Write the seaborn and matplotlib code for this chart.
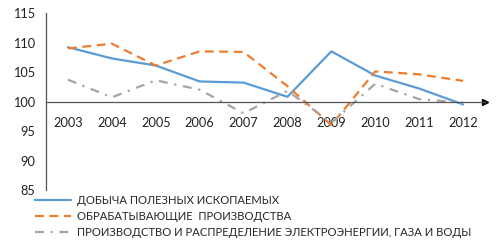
import matplotlib
matplotlib.use("Agg")
from matplotlib import pyplot as plt
import numpy as np
import pandas
import seaborn as sns

# Data
years = [2003, 2004, 2005, 2006, 2007, 2008, 2009, 2010, 2011, 2012]
mining = [109.2, 107.3, 106.1, 103.4, 103.2, 100.8, 108.5, 104.4, 102.2, 99.5]
manufacturing = [109.0, 109.8, 106.1, 108.5, 108.4, 102.6, 96.0, 105.1, 104.6, 103.5]
utilities = [103.7, 100.7, 103.6, 102.0, 98.0, 101.8, 96.4, 103.0, 100.4, 99.8]
labels = ["ДОБЫЧА ПОЛЕЗНЫХ ИСКОПАЕМЫХ",
          "ОБРАБАТЫВАЮЩИЕ  ПРОИЗВОДСТВА",
          "ПРОИЗВОДСТВО И РАСПРЕДЕЛЕНИЕ ЭЛЕКТРОЭНЕРГИИ, ГАЗА И ВОДЫ"]
yticks = [85, 90, 95, 100, 105, 110, 115]

sns.set_style("white")
plt.rcParams['font.family'] = ['Lato', 'DejaVu Sans']

fig = plt.figure(figsize=(4.96, 2.43), dpi=100)
ax = fig.add_axes([46 / 496, 1 - 190 / 243, (485 - 46) / 496, (190 - 13) / 243])

df = pandas.DataFrame({"year": years * 3,
                       "value": mining + manufacturing + utilities,
                       "series": [labels[0]] * 10 + [labels[1]] * 10 + [labels[2]] * 10})
sns.lineplot(data=df, x="year", y="value", hue="series", style="series",
             palette=["#5B9BD5", "#ED7D31", "#A5A5A5"],
             dashes=[(None, None), (4, 2.5), (4, 3, 1, 3)],
             linewidth=1.6, ax=ax, legend=False)

ax.set_xlim(2002.5, 2012.5)
ax.set_ylim(85, 115)
ax.set_yticks(yticks)
ax.set_xticks(years)
ax.tick_params(axis="both", length=0, labelsize=9.2, colors="#222222")
ax.tick_params(axis="y", pad=7.5)
ax.tick_params(axis="x", pad=11)
ax.set_xlabel("")
ax.set_ylabel("")

for s in ["top", "right"]:
    ax.spines[s].set_visible(False)
ax.spines["bottom"].set_position(("data", 100))
ax.spines["left"].set_color("#555555")
ax.spines["bottom"].set_color("#555555")
ax.spines["left"].set_linewidth(0.9)
ax.spines["bottom"].set_linewidth(0.9)
ax.plot(1, 100, ">", color="black", markersize=5, transform=ax.get_yaxis_transform(), clip_on=False)
ax.plot(0, 1, "^", color="black", markersize=5, transform=ax.get_xaxis_transform(), clip_on=False)

handles = [plt.Line2D([], [], color="#5B9BD5", linewidth=1.6),
           plt.Line2D([], [], color="#ED7D31", linewidth=1.6, dashes=(4, 2.5)),
           plt.Line2D([], [], color="#A5A5A5", linewidth=1.6, dashes=(4, 3, 1, 3))]
fig.legend(handles, labels, loc="upper left", bbox_to_anchor=(33 / 496, 1 - 193 / 243),
           frameon=False, fontsize=8.1, handlelength=3.2, handletextpad=0.55,
           labelspacing=0.45, borderaxespad=0, borderpad=0.2)

fig.savefig("out.png", dpi=100)
